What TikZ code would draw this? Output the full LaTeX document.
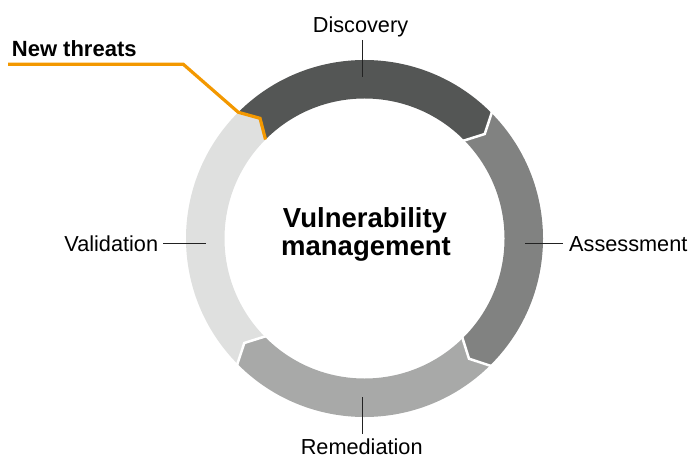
\documentclass[tikz,border=0pt]{standalone}
\usepackage{fontspec}
\setmainfont{Liberation Sans}
\usetikzlibrary{calc}
\definecolor{cdisc}{HTML}{545655}
\definecolor{cass}{HTML}{818281}
\definecolor{crem}{HTML}{A8A9A8}
\definecolor{cval}{HTML}{DFE0DF}
\definecolor{corange}{HTML}{F39800}
\definecolor{ctick}{HTML}{222222}
\begin{document}
\begin{tikzpicture}[x=1pt,y=1pt,
  lbl/.style={font=\fontsize{21.7}{26}\selectfont, text=black, inner sep=0pt},
  titletext/.style={font=\bfseries\fontsize{27.5}{28}\selectfont, text=black, inner sep=0pt},
  ticksty/.style={draw=ctick, line width=1pt},
  gapsty/.style={draw=white, line width=2.5pt, line join=miter},
  threatline/.style={draw=corange, line width=3.2pt, line join=miter},
  ]
\useasboundingbox (0,0) rectangle (692,458);
\def\Ro{178.5}\def\Ri{140}\def\Rm{159.25}\def\Roo{181}\def\Rii{137.5}\def\tipoff{4}
\coordinate (c) at (364.5,219.5);
\newcommand\ringseg[3]{%
  \fill[#3] ([shift={(#1:\Ro pt)}]c) arc[start angle=#1, end angle=#2, radius=\Ro pt]
    -- ([shift={(#2-\tipoff:\Rm pt)}]c) -- ([shift={(#2:\Ri pt)}]c)
    arc[start angle=#2, end angle=#1, radius=\Ri pt]
    -- ([shift={(#1-\tipoff:\Rm pt)}]c) -- cycle;}
% ring segments (clockwise cycle)
\ringseg{135}{45}{cdisc}
\ringseg{45}{-45}{cass}
\ringseg{-45}{-135}{crem}
\ringseg{-135}{-225}{cval}
% white gaps
\foreach \a in {45,-45,-135}
  \draw[gapsty] ([shift={(\a:\Roo pt)}]c) -- ([shift={(\a-\tipoff:\Rm pt)}]c) -- ([shift={(\a:\Rii pt)}]c);
% new threats
\node[anchor=base west, font=\bfseries\fontsize{22}{26}\selectfont, inner sep=0pt] (nt) at (11.7,401.3) {New threats};
\coordinate (ntA) at (8,393.7);
\coordinate (ntB) at (183.3,393.7);
\coordinate (ntO) at ([shift={(135:\Ro pt)}]c);
\coordinate (ntM) at ([shift={(135-\tipoff:\Rm pt)}]c);
\coordinate (ntI) at ([shift={(135:\Ri pt)}]c);
\draw[threatline] (ntA) -- (ntB) -- (ntO) -- (ntM) -- (ntI);
% center title
\node[titletext, anchor=base] (t1) at (365,230.7) {Vulnerability};
\node[titletext, anchor=base] (t2) at (366,203) {management};
% labels
\node[lbl, anchor=base] (disc) at (360.5,425) {Discovery};
\node[lbl, anchor=base west] (ass) at (569,206.3) {Assessment};
\node[lbl, anchor=base] (rem) at (361.7,3.2) {Remediation};
\node[lbl, anchor=base east] (val) at (158.3,206.3) {Validation};
% ticks
\coordinate (discT) at (362.5,418);  \coordinate (discR) at (362.5,381);
\coordinate (assT) at (562.7,214);   \coordinate (assR) at (525,214);
\coordinate (remT) at (362.7,24.5);  \coordinate (remR) at (362.7,61.3);
\coordinate (valT) at (163.3,214);   \coordinate (valR) at (205.7,214);
\draw[ticksty] (discT) -- (discR);
\draw[ticksty] (assT) -- (assR);
\draw[ticksty] (remT) -- (remR);
\draw[ticksty] (valT) -- (valR);
\end{tikzpicture}
\end{document}
